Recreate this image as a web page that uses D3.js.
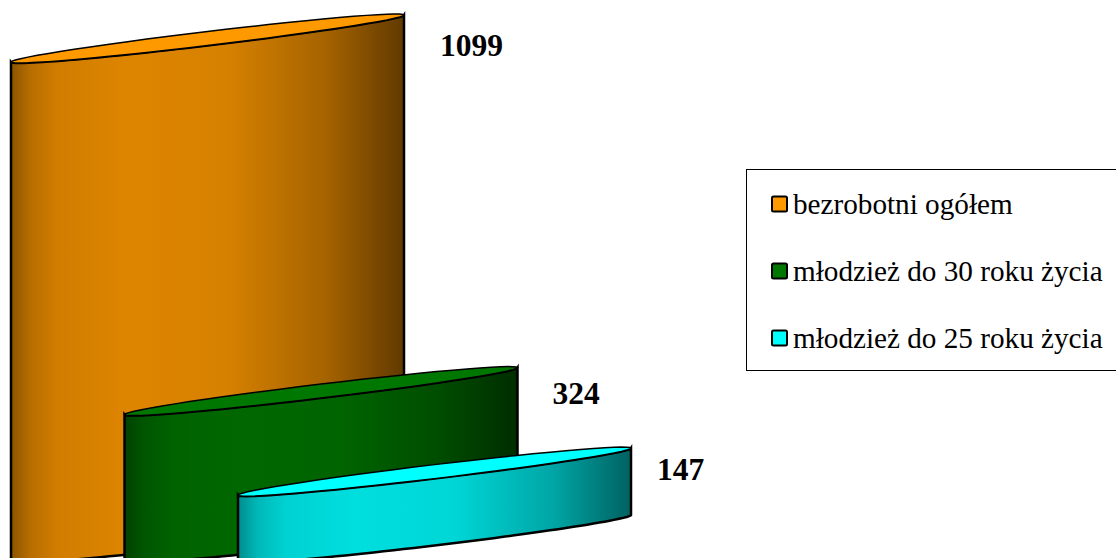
<!DOCTYPE html>
<html>
<head>
<meta charset="utf-8">
<script src="https://cdn.jsdelivr.net/npm/d3@7"></script>
<style>
html, body { margin: 0; padding: 0; background: #fff; overflow: hidden; }
text { font-family: "Liberation Serif", serif; fill: #000; }
</style>
</head>
<body>
<svg id="chart" width="1116" height="558"></svg>
<script>
var categories = ["bezrobotni ogółem", "młodzież do 30 roku życia", "młodzież do 25 roku życia"];
var values = [1099, 324, 147];
var colors = ["#ff9900", "#007700", "#00ffff"];

var width = 1116, height = 558;
var cyl_width = 393;    // horizontal span of one cylinder
var rise = 47;          // the ellipse is tilted, right end sits this much higher
var half_depth = 7;

// label nudges, the original labels are not evenly spaced
var label_dx = [36, 35, 26];
var label_dy = [41, 36, 32];

var svg = d3.select("#chart");
var defs = svg.append("defs");

var x = d3.scalePoint().domain(categories).range([11, 238]);
// y of the right end of a cylinder top
var y = d3.scaleLinear().domain([0, 1099]).range([515, 15]);

var line = d3.line().curve(d3.curveLinear);

// one point of the sheared ellipse, t in radians
function rim(cat, right_y, t) {
    var cx = x(cat) + cyl_width / 2;
    var cy = right_y + rise / 2;
    return [cx + cyl_width / 2 * Math.cos(t),
            cy - rise / 2 * Math.cos(t) + half_depth * Math.sin(t)];
}

function arc_points(cat, right_y, t0, t1) {
    return d3.range(0, 61).map(function (i) {
        return rim(cat, right_y, t0 + (t1 - t0) * i / 60);
    });
}

function side_path(cat, value) {
    var top = arc_points(cat, y(value), Math.PI, 0);
    var bottom = arc_points(cat, y(0), 0, Math.PI);
    return line(top.concat(bottom)) + "Z";
}

function top_path(cat, value) {
    return line(arc_points(cat, y(value), 0, 2 * Math.PI)) + "Z";
}

function add_gradient(i) {
    var shade = d3.scaleLinear()
        .domain([0, 0.05, 0.12, 0.3, 0.55, 0.8, 1])
        .range([0.55, 0.72, 0.82, 0.87, 0.84, 0.65, 0.38]);
    var grad = defs.append("linearGradient")
        .attr("id", "side" + i)
        .attr("x1", "0").attr("x2", "1").attr("y1", "0").attr("y2", "0");
    shade.domain().forEach(function (o) {
        var c = d3.rgb(colors[i]);
        grad.append("stop")
            .attr("offset", o)
            .attr("stop-color", d3.rgb(c.r * shade(o), c.g * shade(o), c.b * shade(o)).formatHex());
    });
}

categories.forEach(function (cat, i) {
    add_gradient(i);
    var g = svg.append("g");
    g.append("path")
        .attr("d", side_path(cat, values[i]))
        .attr("fill", "url(#side" + i + ")")
        .attr("stroke", "#000")
        .attr("stroke-width", 2.5);
    g.append("path")
        .attr("d", top_path(cat, values[i]))
        .attr("fill", colors[i])
        .attr("stroke", "#000")
        .attr("stroke-width", 1.5);
    g.append("text")
        .attr("x", x(cat) + cyl_width + label_dx[i])
        .attr("y", y(values[i]) + label_dy[i])
        .attr("font-size", 31.5)
        .attr("font-weight", "bold")
        .text(values[i]);
});

// legend
var legend = svg.append("g");
legend.append("rect")
    .attr("x", 746.5).attr("y", 169.5)
    .attr("width", 380).attr("height", 201)
    .attr("fill", "#fff")
    .attr("stroke", "#000")
    .attr("stroke-width", 1);

var legend_y = d3.scalePoint().domain(categories).range([204, 338]);

categories.forEach(function (cat, i) {
    legend.append("rect")
        .attr("x", 772).attr("y", legend_y(cat) - 7.5)
        .attr("width", 15).attr("height", 15)
        .attr("rx", 1.5)
        .attr("fill", colors[i])
        .attr("stroke", "#000")
        .attr("stroke-width", 2);
    legend.append("text")
        .attr("x", 793)
        .attr("y", legend_y(cat) + 10)
        .attr("font-size", 29.2)
        .text(cat);
});
</script>
</body>
</html>
